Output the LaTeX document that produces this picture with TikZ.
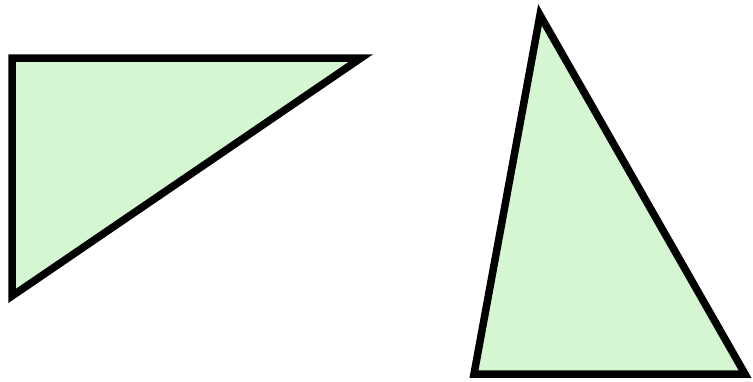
\documentclass[tikz,border=0pt]{standalone}
\begin{document}
\begin{tikzpicture}[x=1pt,y=-1pt,
  tri/.style={draw=black, fill={rgb,255:red,212;green,247;blue,210}, line width=7.5pt, line join=miter}]
\useasboundingbox (0,0) rectangle (753,381);
\coordinate (a1) at (12,58);
\coordinate (a2) at (361,58);
\coordinate (a3) at (12,296);
\coordinate (b1) at (540,15);
\coordinate (b2) at (474,374);
\coordinate (b3) at (745,374);
\draw[tri] (a1) -- (a2) -- (a3) -- cycle;
\draw[tri] (b1) -- (b2) -- (b3) -- cycle;
\end{tikzpicture}
\end{document}
